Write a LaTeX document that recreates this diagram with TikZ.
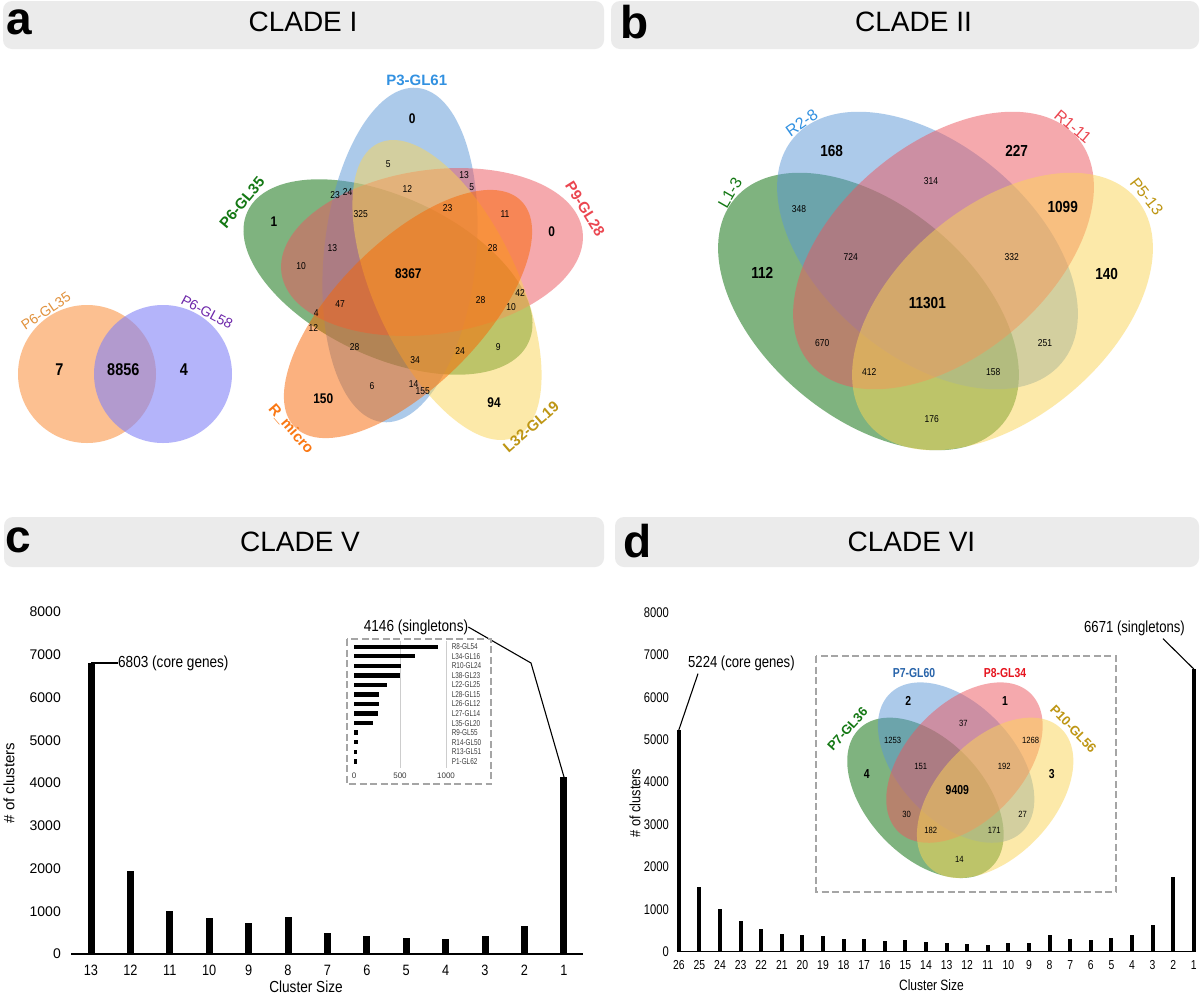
\documentclass[tikz,border=0pt]{standalone}
\usepackage{fontspec}
\setmainfont{Liberation Sans}
\usepackage{graphicx}
\usetikzlibrary{calc}
\newcommand\fs[1]{\fontsize{#1}{#1}\selectfont}
\definecolor{vgreen}{RGB}{1,105,1}
\definecolor{vblue}{RGB}{91,151,215}
\definecolor{vred}{RGB}{237,85,93}
\definecolor{vyellow}{RGB}{251,213,85}
\definecolor{vorange}{RGB}{249,101,0}
\definecolor{hdrgray}{RGB}{235,235,235}
\definecolor{lgreen}{RGB}{20,120,20}
\definecolor{lblue}{RGB}{50,145,225}
\definecolor{lred}{RGB}{235,70,80}
\definecolor{lgold}{RGB}{190,150,20}
\definecolor{lorange}{RGB}{250,120,20}
\definecolor{twoor}{RGB}{252,192,145}
\definecolor{twopu}{RGB}{130,130,247}
\definecolor{lpurple}{RGB}{110,40,170}
\definecolor{lorg2}{RGB}{225,145,60}
\definecolor{dashgray}{RGB}{165,165,165}
\definecolor{gridgray}{RGB}{205,205,205}
\definecolor{insetgray}{RGB}{60,60,60}
\definecolor{dblue}{RGB}{40,100,170}
\definecolor{dred}{RGB}{230,20,30}
\newcommand\fourell{%
 \fill[vs,vgreen,rotate around={-40:(-67,30.5)}] (-67,30.5) ellipse (175 and 106);
 \fill[vs,vblue,rotate around={-40:(-8,-30.5)}] (-8,-30.5) ellipse (175 and 106);
 \fill[vs,vred,rotate around={40:(8,-30.5)}] (8,-30.5) ellipse (175 and 106);
 \fill[vs,vyellow,rotate around={40:(67,30.5)}] (67,30.5) ellipse (175 and 106);
}
\begin{document}
\begin{tikzpicture}[x=1pt,y=-1pt,
 hdr/.style={fill=hdrgray,draw=none,rounded corners=9pt},
 vs/.style={fill opacity=0.5,draw=none},
 tx/.style={inner sep=0pt,xscale=0.85},
 sn/.style={tx,font=\fs{10}},
 bn/.style={tx,font=\bfseries\fs{14}},
 lab/.style={inner sep=0pt,font=\bfseries\fs{15}},
 blab/.style={inner sep=0pt,font=\fs{16}},
 hl/.style={inner sep=0pt,font=\bfseries\fs{46}},
 ht/.style={inner sep=0pt,font=\fs{28}},
 tick/.style={inner sep=0pt,font=\fs{14}},
 lead/.style={draw=black,line width=1.1pt},
 dbox/.style={draw=dashgray,line width=1.2pt,dash pattern=on 7pt off 3.5pt}
]
\useasboundingbox (0,0) rectangle (1200,994);
\fill[white] (0,0) rectangle (1200,994);

% ---------- headers
\fill[hdr] (3,1) rectangle (604,49);
\fill[hdr] (611,1) rectangle (1199,49);
\fill[hdr] (4,517) rectangle (604,567);
\fill[hdr] (615,517) rectangle (1199,567);
\node[hl] (la) at (19,22.5) {a};
\node[ht] (ha) at (303,22) {CLADE I};
\node[hl] (lb) at (634.5,22.5) {b};
\node[ht] (hb) at (913.5,22) {CLADE II};
\node[hl] (lc) at (18.5,540.5) {c};
\node[ht] (hc) at (300,542) {CLADE V};
\node[hl] (ld) at (637.5,541.5) {d};
\node[ht] (hd) at (911.5,542) {CLADE VI};

% ---------- panel a : two-set
\fill[twoor] (87,374) circle (69);
\fill[twopu,fill opacity=0.6] (163,374) circle (69);
\node[tx,font=\bfseries\fs{17}] (t7) at (59.3,369.3) {7};
\node[tx,font=\bfseries\fs{17}] (t8856) at (123.3,369.3) {8856};
\node[tx,font=\bfseries\fs{17}] (t4) at (184,370) {4};
\node[inner sep=0pt,font=\fs{14},text=lorg2,rotate=34] (l635) at (46,311) {P6-GL35};
\node[inner sep=0pt,font=\fs{14},text=lpurple,rotate=-28] (l658) at (207,312) {P6-GL58};

% ---------- panel a : five-set
\fill[vs,vgreen,rotate around={-25:(388,277)}] (388,277) ellipse (155 and 80);
\fill[vs,vblue,rotate around={84:(400,255)}] (400,255) ellipse (168 and 76);
\fill[vs,vred,rotate around={8:(432,252)}] (432,252) ellipse (152 and 82);
\fill[vs,vyellow,rotate around={-65:(447,290)}] (447,290) ellipse (162 and 72);
\fill[vs,vorange,rotate around={45:(408,314)}] (408,314) ellipse (160 and 72);

\node[lab,text=lblue] (p3) at (416.7,80) {P3-GL61};
\node[lab,text=lgreen,rotate=50] (p6) at (242,202.5) {P6-GL35};
\node[lab,text=lred,rotate=-58] (p9) at (585,209) {P9-GL28};
\node[lab,text=lgold,rotate=41] (l32) at (531,427) {L32-GL19};
\node[lab,text=lorange,rotate=-49] (rm) at (291,429) {R\_micro};

\node[bn] at (412.3,119) {0};
\node[bn] at (274,221.7) {1};
\node[bn] at (551.7,231.7) {0};
\node[bn] at (408.3,273.3) {8367};
\node[bn] at (323.3,399) {150};
\node[bn] at (494,402.7) {94};
\node[sn] at (388.3,164.3) {5};
\node[sn] at (464,175) {13};
\node[sn] at (471.7,186.7) {5};
\node[sn] at (335,195.3) {23};
\node[sn] at (347.7,191.7) {24};
\node[sn] at (407.3,189) {12};
\node[sn] at (447.7,208.3) {23};
\node[sn] at (505,214) {11};
\node[sn] at (360.7,214.3) {325};
\node[sn] at (332.3,248.3) {13};
\node[sn] at (492.7,248.3) {28};
\node[sn] at (301,265.7) {10};
\node[sn] at (340,304.3) {47};
\node[sn] at (480.7,300) {28};
\node[sn] at (520,293.3) {42};
\node[sn] at (511,307.3) {10};
\node[sn] at (316.3,313.3) {4};
\node[sn] at (313.3,328.3) {12};
\node[sn] at (354.7,347) {28};
\node[sn] at (415,360) {34};
\node[sn] at (460,351.3) {24};
\node[sn] at (498.3,347) {9};
\node[sn] at (372,385.7) {6};
\node[sn] at (413.7,384.3) {14};
\node[sn] at (422.7,391.3) {155};

% ---------- panel b
\begin{scope}[shift={(935.5,281)}]
\fourell
\end{scope}
\node[blab,text=lgreen,rotate=60] (l13) at (730,193) {L1-3};
\node[blab,text=lblue,rotate=35] (r28) at (801.7,122.7) {R2-8};
\node[blab,text=lred,rotate=-40] (r111) at (1073,126.7) {R1-11};
\node[blab,text=lgold,rotate=-52] (p513) at (1146.7,196.7) {P5-13};
\node[tx,font=\bfseries\fs{16}] at (831.7,150.7) {168};
\node[tx,font=\bfseries\fs{16}] at (1016.7,150.7) {227};
\node[tx,font=\bfseries\fs{16}] at (1062.7,207) {1099};
\node[tx,font=\bfseries\fs{16}] at (762.3,272.7) {112};
\node[tx,font=\bfseries\fs{16}] at (1106.7,274) {140};
\node[tx,font=\bfseries\fs{16}] at (927.3,302.7) {11301};
\node[sn] at (931,181) {314};
\node[sn] at (799,208.7) {348};
\node[sn] at (850.7,256.7) {724};
\node[sn] at (1011.7,256.7) {332};
\node[sn] at (822.3,342.7) {670};
\node[sn] at (1045,342.7) {251};
\node[sn] at (869.3,371.7) {412};
\node[sn] at (993.3,371.7) {158};
\node[sn] at (931.7,419.3) {176};

% ---------- panel c
\draw[line width=1.2pt] (71,954) -- (583,954);
\foreach \v [count=\k from 0] in {0,1000,...,8000}
  \node[tick,anchor=east] at (61,954-42.75*\k) {\v};
\foreach \v [count=\i from 0] in {6803,1941,1013,835,733,858,499,429,374,351,429,655,4146}
  \fill (91+39.4*\i-3.5,954) rectangle (91+39.4*\i+3.5,954-0.04275*\v);
\foreach \n [count=\i from 0] in {13,12,...,1}
  \node[tx,font=\fs{15}] at (91+39.4*\i,970) {\n};
\node[tx,font=\fs{16}] (csc) at (306,987) {Cluster Size};
\node[inner sep=0pt,font=\fs{15},rotate=90] (ycc) at (9,783) {\# of clusters};
\coordinate (ctop13) at (91,663);
\coordinate (ctop1) at (564,777);
\node[tx,anchor=west,font=\fs{16}] (core5) at (118,663) {6803 (core genes)};
\draw[lead] (ctop13) -- (core5.west);
\node[tx,font=\fs{16}] (sing5) at (416,627) {4146 (singletons)};
\coordinate (cbend) at (531,663);
\draw[lead] (sing5.east) -- (cbend) -- (ctop1);
% inset c
\draw[dbox] (347,639) rectangle (491,784);
\draw[gridgray,line width=0.6pt] (400,641) -- (400,768);
\draw[gridgray,line width=0.6pt] (446,641) -- (446,768);
\foreach \v/\l [count=\i from 0] in {910/R8-GL54,667/L34-GL16,511/R10-GL24,504/L38-GL23,355/L22-GL25,275/L28-GL15,268/L26-GL12,257/L27-GL14,207/L35-GL20,47/R9-GL55,40/R14-GL50,33/R13-GL51,29/P1-GL62}{
  \fill (354,646.7+9.55*\i-2.2) rectangle (354+0.092*\v,646.7+9.55*\i+2.2);
  \node[inner sep=0pt,anchor=west,font=\fs{8.5},xscale=0.75,text=insetgray] at (451.7,646.7+9.55*\i) {\l};
}
\node[inner sep=0pt,font=\fs{8},text=insetgray] at (354,775.7) {0};
\node[inner sep=0pt,font=\fs{8},text=insetgray] at (400,775.7) {500};
\node[inner sep=0pt,font=\fs{8},text=insetgray] at (446,775.7) {1000};

% ---------- panel d
\draw[line width=1.2pt] (677,951.7) -- (1196,951.7);
\foreach \v [count=\k from 0] in {0,1000,...,8000}
  \node[tick,anchor=east,xscale=0.8] at (669,951.7-42.4*\k) {\v};
\foreach \v [count=\i from 0] in {5224,1519,1000,717,535,417,394,378,307,307,252,283,236,212,189,165,198,212,394,299,276,330,394,630,1755,6671}
  \fill (678.8+20.6*\i-2,951.7) rectangle (678.8+20.6*\i+2,951.7-0.0424*\v);
\foreach \n [count=\i from 0] in {26,25,...,1}
  \node[inner sep=0pt,font=\fs{13},xscale=0.8] at (678.8+20.6*\i,965) {\n};
\node[inner sep=0pt,font=\fs{15},xscale=0.8] (csd) at (931.5,985) {Cluster Size};
\node[inner sep=0pt,font=\fs{15},rotate=90,xscale=0.85] (ycd) at (635,803) {\# of clusters};
\coordinate (dtop26) at (678.8,730);
\coordinate (dtop1) at (1193.8,669);
\node[inner sep=0pt,anchor=west,font=\fs{16},xscale=0.82] (core6) at (688,663) {5224 (core genes)};
\draw[lead] (dtop26) -- ($(core6.south west)+(10,3)$);
\node[inner sep=0pt,anchor=east,font=\fs{16},xscale=0.82] (sing6) at (1185,628) {6671 (singletons)};
\draw[lead] ($(sing6.south east)+(-22,3)$) -- (dtop1);
% inset d
\draw[dbox] (816,656) rectangle (1116,892);
\begin{scope}[shift={(960.3,780.2)},xscale=0.52,yscale=0.578]
\fourell
\end{scope}
\node[inner sep=0pt,font=\bfseries\fs{13},xscale=0.8,text=dblue] (p760) at (914,673.3) {P7-GL60};
\node[inner sep=0pt,font=\bfseries\fs{13},xscale=0.8,text=dred] (p834) at (1005,673.3) {P8-GL34};
\node[inner sep=0pt,font=\bfseries\fs{13},text=lgreen,rotate=48] (p736) at (847.5,729) {P7-GL36};
\node[inner sep=0pt,font=\bfseries\fs{13},text=lgold,rotate=-46] (p1056) at (1073.3,729) {P10-GL56};
\node[inner sep=0pt,font=\bfseries\fs{13},xscale=0.8] at (908.3,700.7) {2};
\node[inner sep=0pt,font=\bfseries\fs{13},xscale=0.8] at (1005,700.7) {1};
\node[inner sep=0pt,font=\bfseries\fs{13},xscale=0.8] at (866.7,774) {4};
\node[inner sep=0pt,font=\bfseries\fs{13},xscale=0.8] at (1051.7,774) {3};
\node[inner sep=0pt,font=\bfseries\fs{13},xscale=0.8] at (957.3,790) {9409};
\foreach \p/\t in {{963.3,723.3}/37,{892.7,740}/1253,{1030.7,740}/1268,{920.7,766.3}/151,{1004.3,766.3}/192,{906.7,814.3}/30,{1022.7,814.3}/27,{930.7,830.3}/182,{994.3,830.3}/171,{959.3,859}/14}
  \node[inner sep=0pt,font=\fs{9},xscale=0.85] at (\p) {\t};
\end{tikzpicture}
\end{document}
